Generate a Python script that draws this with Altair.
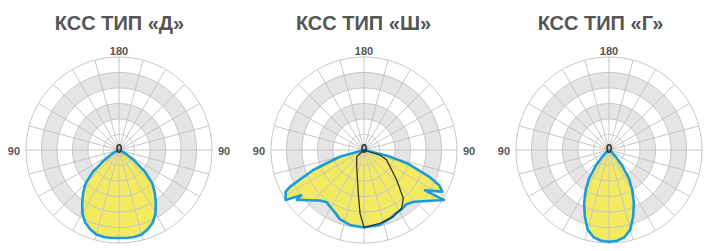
import altair as alt
import numpy as np
import pandas as pd

# ---------------- data ----------------
TITLES = ["КСС ТИП «Д»", "КСС ТИП «Ш»", "КСС ТИП «Г»"]

# symmetric curves: angle from nadir (deg), relative intensity (outer ring = 300)
D_ANGLES = [0, 5, 10, 15, 20, 25, 30, 35, 40, 45, 50, 55, 60, 65, 70, 75, 80, 90]
D_VALUES = [284, 285, 285, 282, 272, 258, 236, 207, 180, 152, 110, 62, 30, 12, 4, 1, 0, 0]

G_ANGLES = [0, 5, 10, 15, 20, 25, 30, 35, 40, 45, 50, 55, 60, 90]
G_VALUES = [296, 294, 286, 266, 228, 190, 150, 112, 66, 30, 10, 3, 0, 0]

# wide curve, outline in drawing order (angle >0 right, <0 left)
SH_ANGLES = [90, 76, 72.6, 67.8, 64.9, 62, 56.5, 58, 44, 38, 31.5, 26, 21.3, 11.3, 0,
             -10.6, -19.4, -25, -31, -36, -41.3, -47, -53.4, -54.2, -57.5, -62, -63.6,
             -68.5, -74.4, -90]
SH_VALUES = [0, 80, 150, 225, 268, 286, 236, 304, 232, 222, 227, 229, 236, 247, 250,
             246, 236, 222, 213, 207, 217, 238, 270, 250, 300, 286, 266,
             176, 81, 0]

# second plane (thin dark line) of the wide curve
C90_ANGLES = [90, -47.5, -23.6, -7.5, -3.6, 0, 12.3, 23.7, 32.9, 39.1, 47.5, 66.2, 72.6, 90]
C90_VALUES = [0, 32, 59, 141, 205, 250, 242, 235, 224, 201, 143, 80, 54, 0]

RING_VALUES = [50, 100, 150, 200, 250, 300]
DISC_VALUES = [250, 200, 150, 100]          # gray / white alternating bands
DISC_COLORS = ["#e5e5e7", "#ffffff", "#e5e5e7", "#ffffff"]
SPOKE_ANGLES = list(range(0, 360, 15))

LABEL_TEXT = ["180", "90", "90", "0"]
LABEL_ANGLE = [180, -90, 90, 0]
LABEL_RADIUS = [322, 339, 339, 319]

# ---------------- layout ----------------
R_MAX = 300
R_PX = 93
H = 203
YLO, YHI = -R_MAX, 110 / R_PX * R_MAX
PANELS_PX = [(111, 112), (113, 112), (113, 96)]   # plot px left / right of centre
SPACING = 20

BLUE = "#1a9cd8"
YELLOW = "#f3ea5f"
GRID = "#c6c6c6"
TXT = "#555555"
CIRCLE_STEP = np.arange(0, 361, 3)


def polar_df(angles, values):
    a = np.radians(np.array(angles, dtype=float))
    v = np.array(values, dtype=float)
    return pd.DataFrame({"i": np.arange(len(v)), "x": v * np.sin(a), "y": -v * np.cos(a)})


def mirror(angles, values):
    ang = [-a for a in reversed(angles)] + list(angles[1:])
    val = list(reversed(values)) + list(values[1:])
    return ang, val


def circles(radii):
    frames = []
    for k, r in enumerate(radii):
        df = polar_df(CIRCLE_STEP, [r] * len(CIRCLE_STEP))
        df["k"] = k
        frames.append(df)
    return pd.concat(frames, ignore_index=True)


def panel(title, px, curve_df, extra_df=None):
    w = px[0] + px[1]
    xs = alt.Scale(domain=[-px[0] / R_PX * R_MAX, px[1] / R_PX * R_MAX], nice=False, zero=False)
    ys = alt.Scale(domain=[YLO, YHI], nice=False, zero=False)
    X = lambda f: alt.X(f, scale=xs, axis=None)
    Y = lambda f: alt.Y(f, scale=ys, axis=None)

    layers = []
    for r, col in zip(DISC_VALUES, DISC_COLORS):
        layers.append(alt.Chart(polar_df(CIRCLE_STEP, [r] * len(CIRCLE_STEP)))
                      .mark_line(fill=col, strokeWidth=0)
                      .encode(x=X("x:Q"), y=Y("y:Q"), order="i:Q"))
    layers.append(alt.Chart(curve_df).mark_line(fill=YELLOW, strokeWidth=0)
                  .encode(x=X("x:Q"), y=Y("y:Q"), order="i:Q"))
    layers.append(alt.Chart(circles(RING_VALUES)).mark_line(color=GRID, strokeWidth=1)
                  .encode(x=X("x:Q"), y=Y("y:Q"), order="i:Q", detail="k:N"))
    sa = np.radians(SPOKE_ANGLES)
    spokes = pd.DataFrame({"x": 0.0, "y": 0.0, "x2": R_MAX * np.sin(sa), "y2": R_MAX * np.cos(sa)})
    layers.append(alt.Chart(spokes).mark_rule(color=GRID, strokeWidth=1)
                  .encode(x=X("x:Q"), y=Y("y:Q"), x2="x2:Q", y2="y2:Q"))
    layers.append(alt.Chart(curve_df).mark_line(color=BLUE, strokeWidth=2.6, strokeJoin="round")
                  .encode(x=X("x:Q"), y=Y("y:Q"), order="i:Q"))
    if extra_df is not None:
        layers.append(alt.Chart(extra_df).mark_line(color="#333333", strokeWidth=1.3)
                      .encode(x=X("x:Q"), y=Y("y:Q"), order="i:Q"))
    la = np.radians(LABEL_ANGLE)
    lr = np.array(LABEL_RADIUS, dtype=float)
    labels = pd.DataFrame({"t": LABEL_TEXT, "x": lr * np.sin(la), "y": -lr * np.cos(la)})
    layers.append(alt.Chart(labels).mark_text(font="Liberation Sans", fontWeight="bold",
                                              fontSize=11, color=TXT, dy=2, clip=True)
                  .encode(x=X("x:Q"), y=Y("y:Q"), text="t:N"))
    layers.append(alt.Chart(pd.DataFrame({"t": ["0"], "x": [0.0], "y": [0.0]}))
                  .mark_text(font="Liberation Sans", fontWeight="bold", fontSize=12,
                             color="#333333", dy=-1)
                  .encode(x=X("x:Q"), y=Y("y:Q"), text="t:N"))
    return alt.layer(*layers).properties(
        width=w, height=H,
        title=alt.TitleParams(title, fontSize=20, font="Liberation Sans", fontWeight="bold",
                              color=TXT, offset=6, anchor="middle", frame="bounds"))


d_df = polar_df(*mirror(D_ANGLES, D_VALUES))
g_df = polar_df(*mirror(G_ANGLES, G_VALUES))
sh_df = polar_df(SH_ANGLES, SH_VALUES)
c90_df = polar_df(C90_ANGLES, C90_VALUES)

chart = alt.hconcat(
    panel(TITLES[0], PANELS_PX[0], d_df),
    panel(TITLES[1], PANELS_PX[1], sh_df, c90_df),
    panel(TITLES[2], PANELS_PX[2], g_df),
    spacing=SPACING,
).properties(padding={"top": 6, "left": 0, "right": 0, "bottom": 0}).configure_view(stroke=None)

chart.save("out.html", embed_options={"renderer": "svg", "actions": False})
